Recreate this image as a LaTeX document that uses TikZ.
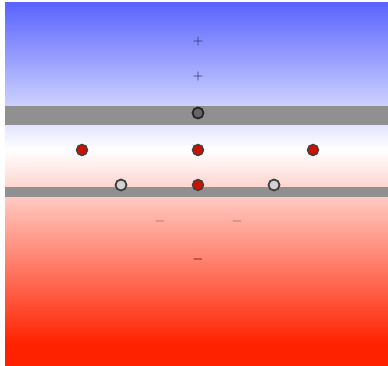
\documentclass[tikz,border=0pt]{standalone}
\definecolor{topblue}{HTML}{5A64FF}
\definecolor{botred}{HTML}{FF2200}
\definecolor{bandgray}{HTML}{909090}
\definecolor{ionred}{HTML}{CC1100}
\definecolor{plusink}{HTML}{2E3468}
\tikzset{
	ion/.style={circle, draw=black!75, fill=ionred, line width=1.4pt, minimum size=11pt, inner sep=0pt},
	trap/.style={circle, draw=black!85, fill=black!60, line width=1.8pt, minimum size=11pt, inner sep=0pt},
	hole/.style={circle, draw=black!75, fill=gray!35, line width=1.8pt, minimum size=11pt, inner sep=0pt},
	sign/.style={inner sep=0pt, font=\large\boldmath}
}
\begin{document}
\begin{tikzpicture}[x=1pt, y=1pt]
		\useasboundingbox (0, 0) rectangle (388, 366);
		% background field
		\shade[top color=topblue, bottom color=white] (5, 216) rectangle (388, 363);
		\shade[top color=white, bottom color=botred] (5, 22) rectangle (388, 216);
		\fill[botred] (5, 0) rectangle (388, 22.5);
		% bands
		\fill[bandgray] (5, 241) rectangle (388, 260);
		\fill[bandgray] (5, 169) rectangle (388, 179);
		% charges
		\node[sign, text=plusink] (p1) at (198, 324) {$+$};
		\node[sign, text=plusink] (p2) at (198, 289) {$+$};
		\node[trap] (t) at (198, 253) {};
		\node[ion] (a1) at (82, 216) {};
		\node[ion] (a2) at (198, 216) {};
		\node[ion] (a3) at (313, 216) {};
		\node[hole] (h1) at (121, 181) {};
		\node[ion] (a4) at (198, 181) {};
		\node[hole] (h2) at (274, 181) {};
		\node[sign, text=gray!90!red] (m1) at (160, 144) {$-$};
		\node[sign, text=gray!90!red] (m2) at (237, 144) {$-$};
		\node[sign, text=black!60!red] (m3) at (198, 106) {$-$};
	\end{tikzpicture}
\end{document}
